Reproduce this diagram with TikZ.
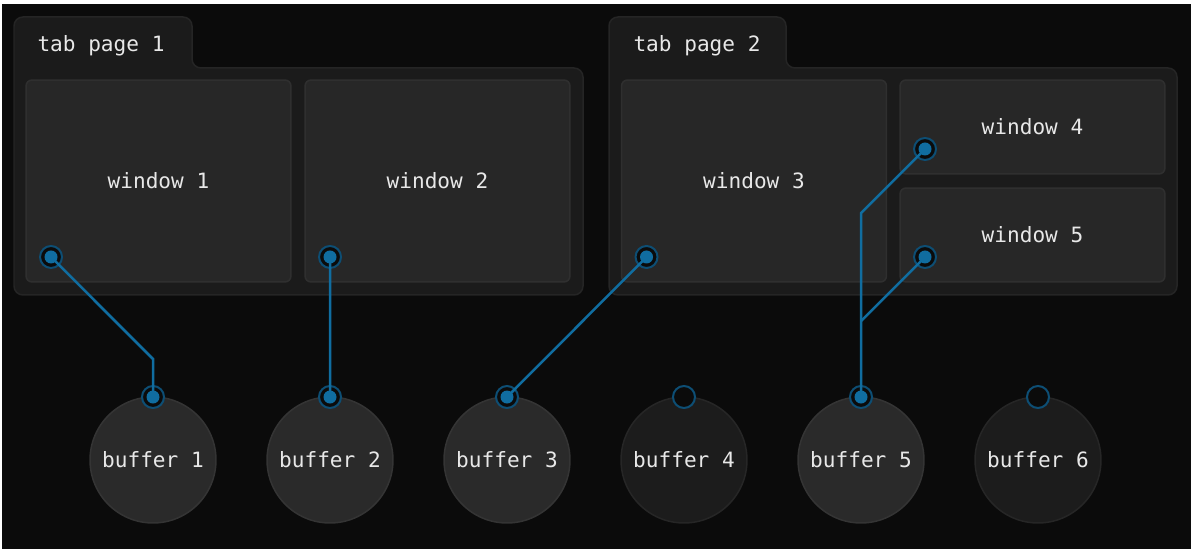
\documentclass[tikz,border=0pt]{standalone}
\usepackage{fontspec}
\setmonofont{DejaVu Sans Mono}

\definecolor{bg}{HTML}{0B0B0B}
\definecolor{tabfill}{HTML}{1B1B1B}
\definecolor{tabline}{HTML}{252525}
\definecolor{winfill}{HTML}{272727}
\definecolor{winline}{HTML}{2F2F2F}
\definecolor{buffill}{HTML}{2A2A2A}
\definecolor{bufline}{HTML}{343434}
\definecolor{idlefill}{HTML}{1C1C1C}
\definecolor{idleline}{HTML}{262626}
\definecolor{ring}{HTML}{0D4E74}
\definecolor{wireblue}{HTML}{106DA0}
\definecolor{ink}{HTML}{E8E8E8}

\begin{document}
\begin{tikzpicture}[x=0.02cm, y=-0.02cm,
        tabpage/.style={fill=tabfill, draw=tabline, line width=0.03cm, rounded corners=0.18cm},
        window/.style={rectangle, fill=winfill, draw=winline, line width=0.03cm, rounded corners=0.12cm,
            minimum width=5.3cm, inner sep=0, outer sep=0},
        buffer/.style={circle, fill=buffill, draw=bufline, line width=0.03cm, minimum size=2.52cm,
            inner sep=0, outer sep=0},
        busy/.style={},
        idle/.style={fill=idlefill, draw=idleline},
        port/.style={circle, fill=bg, draw=ring, line width=0.04cm, minimum size=0.44cm, inner sep=0},
        wire/.style={draw=wireblue, line width=0.05cm},
        txt/.style={text=ink, font=\fontsize{12}{14}\selectfont\ttfamily}]
        \fill[white] (0, 0) rectangle (1194, 553);
        \fill[bg] (2, 4) rectangle (1191, 549);

        % tab pages
        \draw[tabpage] (14, 200) -- (14, 17) -- (192, 17) -- (192, 68) -- (583, 68) -- (583, 295) -- (14, 295) -- cycle;
        \draw[tabpage] (609, 200) -- (609, 17) -- (786, 17) -- (786, 68) -- (1177, 68) -- (1177, 295) -- (609, 295) -- cycle;
        \node[txt] (t1) at (101, 46) {tab page 1};
        \node[txt] (t2) at (697, 46) {tab page 2};

        % windows
        \node[window, minimum height=4.04cm, txt] (w1) at (158.5, 181) {window 1};
        \node[window, minimum height=4.04cm, txt] (w2) at (437.5, 181) {window 2};
        \node[window, minimum height=4.04cm, txt] (w3) at (754, 181) {window 3};
        \node[window, minimum height=1.88cm, txt] (w4) at (1032.5, 127) {window 4};
        \node[window, minimum height=1.88cm, txt] (w5) at (1032.5, 235) {window 5};

        % buffers
        \foreach \i/\x/\s in {1/153/busy, 2/330/busy, 3/507/busy, 4/684/idle, 5/861/busy, 6/1038/idle} {
            \node[buffer, \s, txt] (b\i) at (\x, 460) {buffer \i};
            \node[port] (bp\i) at (b\i.north) {};
        }
        \foreach \i in {1, ..., 5}
            \node[port] (wp\i) at ([shift={(0.5cm, 0.5cm)}]w\i.south west) {};

        % window -> buffer
        \draw[wire] (wp1.center) -- ([yshift=0.76cm]bp1.center) -- (bp1.center);
        \draw[wire] (wp2.center) -- (bp2.center);
        \draw[wire] (wp3.center) -- (bp3.center);
        \draw[wire] (wp4.center) -- ([yshift=3.68cm]bp5.center) -- (bp5.center);
        \draw[wire] (wp5.center) -- ([yshift=1.52cm]bp5.center);

        \foreach \p in {wp1, wp2, wp3, wp4, wp5, bp1, bp2, bp3, bp5}
            \fill[wireblue] (\p) circle[radius=0.13cm];
    \end{tikzpicture}
\end{document}
